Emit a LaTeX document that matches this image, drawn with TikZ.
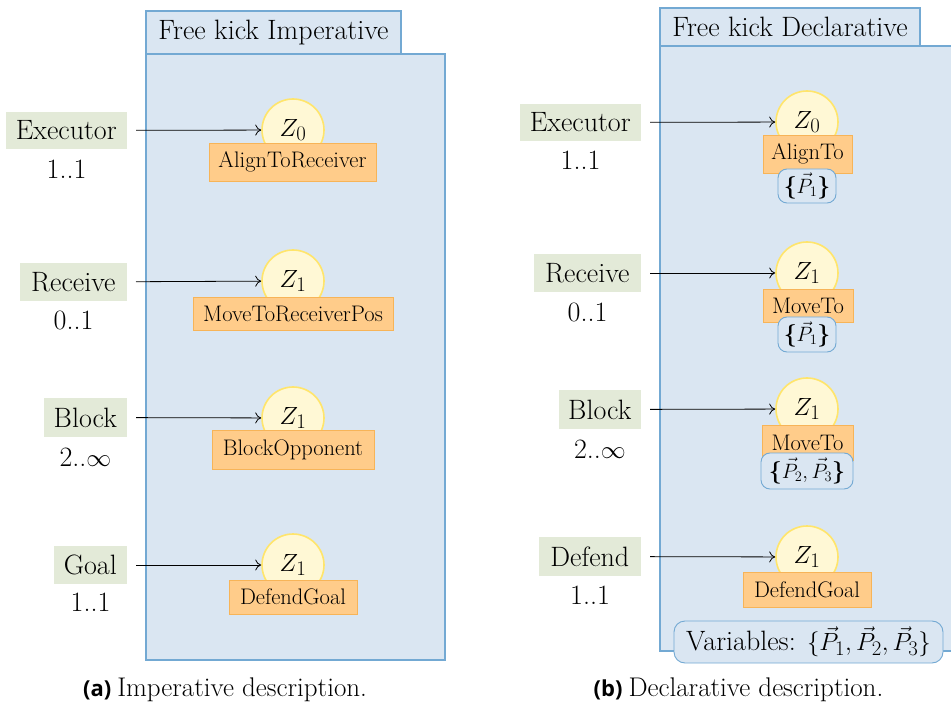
\documentclass[tikz,border=0pt]{standalone}
\usepackage{fontspec}
\newfontfamily\capsans{Open Sans}
\usetikzlibrary{arrows.meta}

\definecolor{panelfill}{HTML}{DAE6F2}
\definecolor{panelline}{HTML}{73A9D3}
\definecolor{rolefill}{HTML}{E3EAD8}
\definecolor{circfill}{HTML}{FFF8D5}
\definecolor{circline}{HTML}{FFE56B}
\definecolor{skillfill}{HTML}{FFCC8A}
\definecolor{skillline}{HTML}{F7B458}

\newcommand\figbig{\fontsize{28}{33}\selectfont}
\newcommand\figsmall{\fontsize{22.5}{27}\selectfont}
\newcommand\figcap{\fontsize{27}{32}\selectfont}

\tikzset{
  panel/.style={fill=panelfill, draw=panelline, line width=1.1pt},
  ptitle/.style={panel, inner sep=0pt, font=\figbig},
  role/.style={fill=rolefill, inner sep=0pt, anchor=east, font=\figbig},
  card/.style={inner sep=0pt, font=\figbig},
  state/.style={circle, fill=circfill, draw=circline, line width=1.6pt,
                minimum size=62pt, inner sep=0pt, font=\figbig},
  skill/.style={fill=skillfill, draw=skillline, line width=0.9pt,
                inner sep=0pt, font=\figsmall},
  params/.style={rectangle, rounded corners=9pt, fill=panelfill, draw=panelline,
                 line width=0.9pt, inner sep=0pt, font=\figsmall},
  flow/.style={-{To[length=6pt,width=11pt]}, line width=0.8pt, shorten <=9pt},
  caption/.style={inner sep=0pt, font=\figcap},
}

\begin{document}
\begin{tikzpicture}[x=1pt, y=-1pt]
\useasboundingbox (0,0) rectangle (951,703);

% ---------- (a) imperative play ----------
\filldraw[panel] (146,54) rectangle (445,660);
\node[ptitle, minimum width=255pt, minimum height=43pt] (ta) at (273.5,32.5) {Free kick Imperative};

\node[role, minimum width=121pt, minimum height=37pt] (ra1) at (127,130.5) {Executor};
\node[role, minimum width=107pt, minimum height=38pt] (ra2) at (127,282) {Receive};
\node[role, minimum width=83pt,  minimum height=39pt] (ra3) at (127,417.5) {Block};
\node[role, minimum width=73pt,  minimum height=38pt] (ra4) at (127,565) {Goal};

\node[card] (na1) at (66.5,169) {1..1};
\node[card] (na2) at (73.5,320) {0..1};
\node[card] (na3) at (85.5,457) {2..$\infty$};
\node[card] (na4) at (90.5,602) {1..1};

\node[state] (sa1) at (293,130) {$Z_0$};
\node[state] (sa2) at (293,281) {$Z_1$};
\node[state] (sa3) at (293,418) {$Z_1$};
\node[state] (sa4) at (293,565) {$Z_1$};

\node[skill, minimum width=167pt, minimum height=38pt] (ka1) at (292.5,162) {AlignToReceiver};
\node[skill, minimum width=200pt, minimum height=33pt] (ka2) at (293,313.5) {MoveToReceiverPos};
\node[skill, minimum width=162pt, minimum height=39pt] (ka3) at (293,449.5) {BlockOpponent};
\node[skill, minimum width=128pt, minimum height=34pt] (ka4) at (293,597) {DefendGoal};

\draw[flow] (ra1) -- (sa1);
\draw[flow] (ra2) -- (sa2);
\draw[flow] (ra3) -- (sa3);
\draw[flow] (ra4) -- (sa4);

\node[caption] (capa) at (225,690) {{\capsans\bfseries\fontsize{22}{26}\selectfont (a)}\hspace{6pt}Imperative description.};

% ---------- (b) declarative play ----------
\fill[panelfill] (660,46) rectangle (951,651);
\draw[panelline, line width=1.1pt] (951,46) -- (660,46) -- (660,651) -- (951,651);
\node[ptitle, minimum width=260pt, minimum height=38pt] (tb) at (790,27) {Free kick Declarative};

\node[role, minimum width=121pt, minimum height=37pt] (rb1) at (641,122.5) {Executor};
\node[role, minimum width=107pt, minimum height=38pt] (rb2) at (641,273) {Receive};
\node[role, minimum width=82pt,  minimum height=39pt] (rb3) at (641,409.5) {Block};
\node[role, minimum width=102pt, minimum height=39pt] (rb4) at (641,556.5) {Defend};

\node[card] (nb1) at (580.5,160) {1..1};
\node[card] (nb2) at (587.5,312) {0..1};
\node[card] (nb3) at (600,449) {2..$\infty$};
\node[card] (nb4) at (590,595) {1..1};

\node[state] (sb1) at (807,122) {$Z_0$};
\node[state] (sb2) at (807,273) {$Z_1$};
\node[state] (sb3) at (807,409) {$Z_1$};
\node[state] (sb4) at (807,557) {$Z_1$};

\node[skill, minimum width=89pt,  minimum height=38pt] (kb1) at (807.5,154) {AlignTo};
\node[skill, minimum width=90pt,  minimum height=33pt] (kb2) at (808,305.5) {MoveTo};
\node[skill, minimum width=91pt,  minimum height=35pt] (kb3) at (807.5,442.5) {MoveTo};
\node[skill, minimum width=128pt, minimum height=35pt] (kb4) at (807,589.5) {DefendGoal};

\node[params, minimum width=58pt, minimum height=34pt] (pb1) at (807,186) {\textbf{\{}$\vec P_1$\textbf{\}}};
\node[params, minimum width=58pt, minimum height=35pt] (pb2) at (807,334.5) {\textbf{\{}$\vec P_1$\textbf{\}}};
\node[params, minimum width=92pt, minimum height=36pt] (pb3) at (807,471) {\textbf{\{}$\vec P_2,\vec P_3$\textbf{\}}};

\node[params, rounded corners=11pt, font=\figbig, minimum width=269pt, minimum height=42pt] (vars) at (808.5,642) {Variables: $\{\vec P_1,\vec P_2,\vec P_3\}$};

\draw[flow] (rb1) -- (sb1);
\draw[flow] (rb2) -- (sb2);
\draw[flow] (rb3) -- (sb3);
\draw[flow] (rb4) -- (sb4);

\node[caption] (capb) at (738.5,690) {{\capsans\bfseries\fontsize{22}{26}\selectfont (b)}\hspace{6pt}Declarative description.};
\end{tikzpicture}
\end{document}
